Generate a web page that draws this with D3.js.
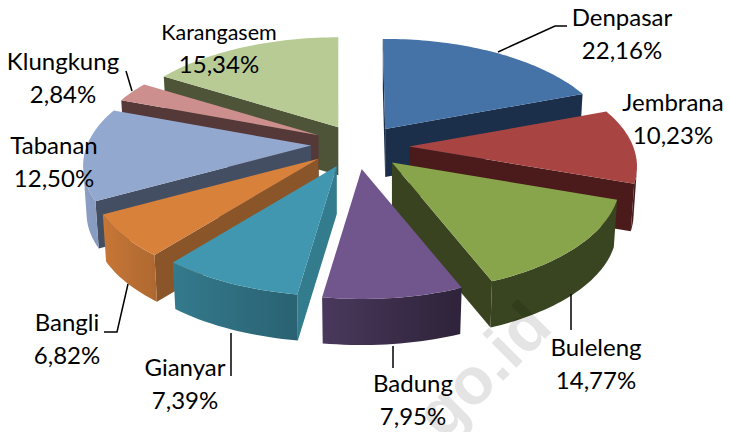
<!DOCTYPE html>
<html><head><meta charset="utf-8">
<script src="https://cdn.jsdelivr.net/npm/d3@7"></script>
<style>html,body{margin:0;padding:0;background:#fff}svg{display:block}</style>
</head><body><svg id="c" width="730" height="432"></svg>
<script>
const categories=["Denpasar","Jembrana","Buleleng","Badung","Gianyar","Bangli","Tabanan","Klungkung","Karangasem"];
const values=[22.16,10.23,14.77,7.95,7.39,6.82,12.50,2.84,15.34];
const valueLabels=["22,16%","10,23%","14,77%","7,95%","7,39%","6,82%","12,50%","2,84%","15,34%"];
const topColors=["#4572a7","#a84543","#88a54c","#71568d","#4097af","#d8813b","#92a8cf","#cd8f8e","#b8cb94"];
const wallColors=["#1b2f4b","#4a1b1a","#39431f","#3f3050","#337c8d","#8a5528","#434e63","#553939","#4d5438"];
const paintOrder=[0,8,7,6,5,1,2,4,3];
const explode=[.9,1,.92,1,.95,1,1,1,1];
const labelX=[622,673,596,413,185,67,54,63,219];
const labelY=[18,103,348,384,368,323,146,62,32];
const nameSize=[24,24,24,24,24,24,24,24,21.5];
const leaders=[[[498,52],[555,26],[567,26]],[],[[571,294],[571,330]],[[393,346],[393,368]],[[231,333],[231,376]],[[128,284],[117,332],[104,332]],[],[[126,71],[132,91]],[]];
const cx=360,cy=147,rx=228,ry=110,yShift=20,ex=49,ey=22,depth=48,bottomScale=.985;
const warp=d3.scaleLinear().domain([0,79.8,116.6,169.8,198.4,225,249.5,294.5,304.7,360]).range([-.6,60,99,154,190,226,251,300,310,360]);
const outerShade=d3.scaleLinear().domain([-1,-.7,-.17,.4,1]).range([.95,.8,.65,.42,.42]);
const deg=180/Math.PI;
const svg=d3.select("#c");
const defs=svg.append("defs");
const arcs=d3.pie().sort(null).startAngle(0).endAngle(2*Math.PI)(values);
const dir=a=>{const p=warp(a*deg)/deg;return [rx*Math.sin(p),yShift-ry*Math.cos(p)];};
const line=d3.line();
const shaded=(hex,f)=>{const c=d3.rgb(hex);return d3.rgb(c.r*f,c.g*f,c.b*f).formatHex();};
paintOrder.forEach(i=>{
  const a=arcs[i],midRaw=(a.startAngle+a.endAngle)/2,mid=(midRaw+warp(midRaw*deg)/deg)/2;
  const ax=cx+ex*explode[i]*Math.sin(mid),ay=cy-ey*Math.cos(mid);
  const top=d=>[ax+d[0],ay+d[1]];
  const bot=d=>[ax+d[0]*bottomScale,ay+d[1]*bottomScale+depth];
  const n=Math.max(8,Math.ceil((a.endAngle-a.startAngle)*deg/1.5));
  const ang=d3.range(n+1).map(k=>a.startAngle+(a.endAngle-a.startAngle)*k/n);
  const g=svg.append("g");
  const s=dir(a.startAngle),e=dir(a.endAngle);
  [[[0,0],s],[e,[0,0]]].forEach(([p,q])=>{
    const quad=[top(p),top(q),bot(q),bot(p)];
    if(d3.polygonArea(quad)>0) g.append("path").attr("d",line(quad)+"Z").attr("fill",wallColors[i]);
  });
  const vis=d3.range(n).filter(k=>{
    const p=dir(ang[k]),q=dir(ang[k+1]);
    return d3.polygonArea([top(p),top(q),bot(q),bot(p)])>0;
  });
  if(vis.length){
    const ts=vis.map(k=>ang[k]).concat([ang[vis[vis.length-1]+1]]);
    const ring=ts.map(t=>top(dir(t))).concat(ts.slice().reverse().map(t=>bot(dir(t))));
    const xs=ts.map(t=>top(dir(t))[0]);
    const x0=d3.min(xs),x1=d3.max(xs);
    const grad=defs.append("linearGradient").attr("id","w"+i).attr("gradientUnits","userSpaceOnUse")
      .attr("x1",x0).attr("x2",x1).attr("y1",0).attr("y2",0);
    ts.map(t=>({x:top(dir(t))[0],c:shaded(topColors[i],outerShade(Math.sin(warp(t*deg)/deg)))}))
      .sort((u,v)=>u.x-v.x)
      .forEach(d=>grad.append("stop").attr("offset",x1>x0?(d.x-x0)/(x1-x0):0).attr("stop-color",d.c));
    g.append("path").attr("d",line(ring)+"Z").attr("fill",`url(#w${i})`);
  }
  const face=[[ax,ay]].concat(ang.map(t=>top(dir(t))));
  g.append("path").attr("d",line(face)+"Z").attr("fill",topColors[i]);
});
categories.forEach((c,i)=>{
  if(leaders[i].length) svg.append("path").attr("d",line(leaders[i])).attr("fill","none").attr("stroke","#000").attr("stroke-width",1.5);
  const t=svg.append("g").attr("font-family","Lato, 'Open Sans', sans-serif").attr("fill","#000").attr("text-anchor","middle");
  t.append("text").attr("x",labelX[i]).attr("y",labelY[i]+8).attr("font-size",nameSize[i]).text(c);
  t.append("text").attr("x",labelX[i]).attr("y",labelY[i]+41).attr("font-size",24).text(valueLabels[i]);
});
svg.append("text").attr("transform","translate(443,441) rotate(-45)").attr("font-family","'Liberation Sans',sans-serif").attr("font-weight",700).attr("font-size",66).attr("fill","#000").attr("opacity",.1).text("go.id");
</script></body></html>
